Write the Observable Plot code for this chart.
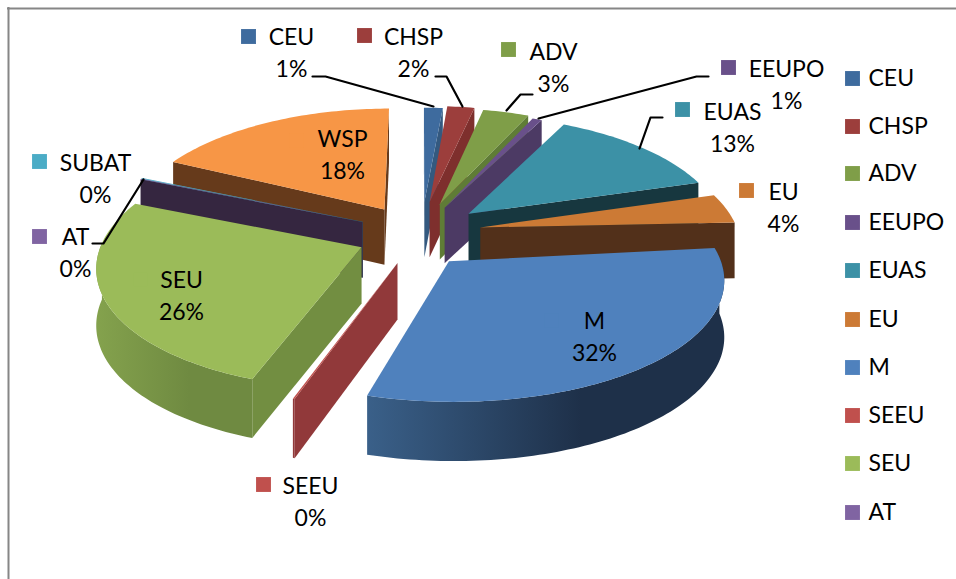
<!DOCTYPE html>
<html><head><meta charset="utf-8">
<script src="https://cdn.jsdelivr.net/npm/d3@7"></script>
<script src="https://cdn.jsdelivr.net/npm/@observablehq/plot@0.6"></script>
<style>html,body{margin:0;padding:0;background:#fff}svg{display:block}</style>
</head><body><div id="chart"></div>
<script>
// --- data ---
const categories = ["CEU","CHSP","ADV","EEUPO","EUAS","EU","M","SEEU","SEU","AT","SUBAT","WSP"];
const values     = [1.4, 2, 3.4, 0.7, 13, 4, 32, 0.1, 26, 0.1, 0.1, 17.9];
// --- styles ---
const topColors  = ["#3e6b9e","#9c3e3c","#7f9e48","#69508a","#3c91a6","#cc7a35","#4f81bd","#c0504d","#9bbb59","#8064a2","#4bacc6","#f79646"];
const wallColors = ["#34597f","#7e2f2d","#5f7c36","#4c3a64","#17373f","#52301a","#22364f","#91393a","#728e41","#352640","#2b6a7c","#663a1b"];
const outerLeft  = ["#34597f","#7e2f2d","#5f7c36","#4c3a64","#17373f","#52301a","#3a6089","#91393a","#84a24d","#352640","#2b6a7c","#663a1b"];
const outerRight = ["#34597f","#7e2f2d","#5f7c36","#4c3a64","#17373f","#52301a","#1e3049","#91393a","#6f8a41","#352640","#2b6a7c","#663a1b"];
// --- slice placement: explosion, per-slice fine adjustment of the drawn pie ---
const explode    = [.36,.30,.30,.28,.28,.26,.20,.20,.25,.23,.23,.28];
const nudgeX     = [4,2,0,-2,-2,-2,2,1,6,-1,-1,5];
const nudgeY     = [4,-3,-2,-2,-4,-6,3,2,-2,-5,-5,-2];
const trimStart  = [0,0,0,0,0,0,-4,-3,-3,-2.5,-2.5,0];
const trimEnd    = [0,0,0,0,0,0,-6,-3,-3,-2.5,-2.5,0];
const radiusK    = [1,1,1,1,1,1,1.03,1,1,1.01,1.01,1.01];
const depthK     = [1,1,1,1,1,1,.95,1,1,1,1,1.03];
const drawOrder  = ["WSP","CEU","CHSP","ADV","EEUPO","EUAS","EU","SUBAT","AT","SEEU","SEU","M"];
// --- layout of labels ---
const labelX = [291,413,553,786,732,783,594,310,181,75,95,342];
const labelY = [50,50,65,82,125,205,334,499,293,250,176,152];
const keyX   = [248,364,508,728,682,746,551,263,140,39,39,296];
const keyY   = [36,35,49,67,109,190,320,484,279,236,161,140];
const legendNames = ["CEU","CHSP","ADV","EEUPO","EUAS","EU","M","SEEU","SEU","AT"];
const legendYs    = [78,126,173,222,270,319,367,415,463,512];
const leaderX = {CEU:[312,325,433],CHSP:[435,446,462],ADV:[532,520,506],EEUPO:[708,696,538],EUAS:[662,650,639],AT:[92,103,143]};
const leaderY = {CEU:[76,76,106],CHSP:[76,76,106],ADV:[94,94,110],EEUPO:[76,76,118],EUAS:[117,117,148],AT:[243,243,179]};

// --- pie projection ---
const cx = 416, cy = 238, R0 = 258, RY = 118, P = 0.14, DEPTH = 56;
const total = d3.sum(values);
const rad = Math.PI/180;
let acc = 0;
const slices = categories.map((name,i)=>{
  const s0 = acc/total*2*Math.PI; acc += values[i];
  const s1 = acc/total*2*Math.PI;
  return {name,i,a0:s0+trimStart[i]*rad,a1:s1+trimEnd[i]*rad,mid:(s0+s1)/2};
});
function pt(s,a,r,low){
  const rr = r*radiusK[s.i];
  const X = explode[s.i]*Math.sin(s.mid)+rr*Math.sin(a);
  const Y = explode[s.i]*Math.cos(s.mid)+rr*depthK[s.i]*Math.cos(a);
  const k = 1/(1+P*Y);
  return {x:cx+nudgeX[s.i]+R0*X*k, y:cy+nudgeY[s.i]-RY*Y*k+(low?DEPTH*(1+(k-1)*.3):0)};
}
const rows = []; let pid = 0;
function poly(pts,color){pid++; for(const p of pts) rows.push({id:pid,x:p.x,y:p.y,color});}
function area(pts){let t=0;pts.forEach((p,j)=>{const q=pts[(j+1)%pts.length];t+=p.x*q.y-q.x*p.y});return t;}
const bySlice = new Map(slices.map(s=>[s.name,s]));
for(const name of drawOrder){
  const s = bySlice.get(name), i = s.i;
  const w0=[pt(s,0,0,false),pt(s,s.a0,1,false),pt(s,s.a0,1,true),pt(s,0,0,true)];
  const w1=[pt(s,0,0,false),pt(s,s.a1,1,false),pt(s,s.a1,1,true),pt(s,0,0,true)];
  if(area(w0)<0) poly(w0,wallColors[i]);
  if(area(w1)>0) poly(w1,wallColors[i]);
  // curved outer wall, filled with a left-to-right gradient
  const n = Math.max(2,Math.ceil((s.a1-s.a0)/0.02));
  const arc = d3.range(n+1).map(j=>s.a0+(s.a1-s.a0)*j/n);
  const vis = arc.filter(a=>Math.cos(a)<=0.05);
  if(vis.length>1) poly([...vis.map(a=>pt(s,a,1,false)),...vis.slice().reverse().map(a=>pt(s,a,1,true))],`url(#outer-${i})`);
  // top face
  poly([pt(s,0,0,false),...arc.map(a=>pt(s,a,1,false))],topColors[i]);
}

const labels = categories.map((name,i)=>({text:`${name}\n${Math.round(values[i]/total*100)}%`,x:labelX[i],y:labelY[i]}));
const keys = categories.map((name,i)=>({x:keyX[i],y:keyY[i],color:topColors[i]}));
const legend = legendNames.map((name,j)=>({name,y:legendYs[j],color:topColors[categories.indexOf(name)]}));
const leaders = Object.keys(leaderX).flatMap(k=>leaderX[k].map((x,j)=>({k,x,y:leaderY[k][j]})));
const font = "Lato, 'Open Sans', sans-serif";

function gradients(){
  const defs = d3.create("svg:defs");
  categories.forEach((c,i)=>{
    const g = defs.append("linearGradient").attr("id",`outer-${i}`).attr("x1",0).attr("x2",1).attr("y1",0).attr("y2",0);
    g.append("stop").attr("offset","0%").attr("stop-color",outerLeft[i]);
    g.append("stop").attr("offset","60%").attr("stop-color",outerRight[i]);
  });
  return defs.node();
}

const plot = Plot.plot({
  width:956,height:579,margin:0,
  x:{domain:[0,956],range:[0,956],axis:null},
  y:{domain:[0,579],range:[0,579],axis:null},
  color:{type:"identity"},
  style:{background:"#fff",fontFamily:font},
  marks:[
    gradients,
    Plot.ruleY([8],{x1:7,x2:956,stroke:"#868686",strokeWidth:2}),
    Plot.ruleX([8],{y1:7,y2:579,stroke:"#868686",strokeWidth:2}),
    Plot.line(rows,{x:"x",y:"y",z:"id",fill:"color",stroke:"none",curve:"linear-closed"}),
    Plot.line(leaders,{x:"x",y:"y",z:"k",stroke:"#000",strokeWidth:2.2,curve:"linear"}),
    Plot.dot(keys,{x:"x",y:"y",symbol:"square",r:8.4,fill:"color"}),
    Plot.text(labels,{x:"x",y:"y",text:"text",fontSize:23,lineHeight:1.43,fill:"#000",textAnchor:"middle",lineAnchor:"middle"}),
    Plot.dot(legend,{x:852,y:"y",symbol:"square",r:8.4,fill:"color"}),
    Plot.text(legend,{x:868,y:"y",text:"name",fontSize:23,fill:"#000",textAnchor:"start",lineAnchor:"middle"})
  ]
});
document.getElementById("chart").append(plot);
</script></body></html>
